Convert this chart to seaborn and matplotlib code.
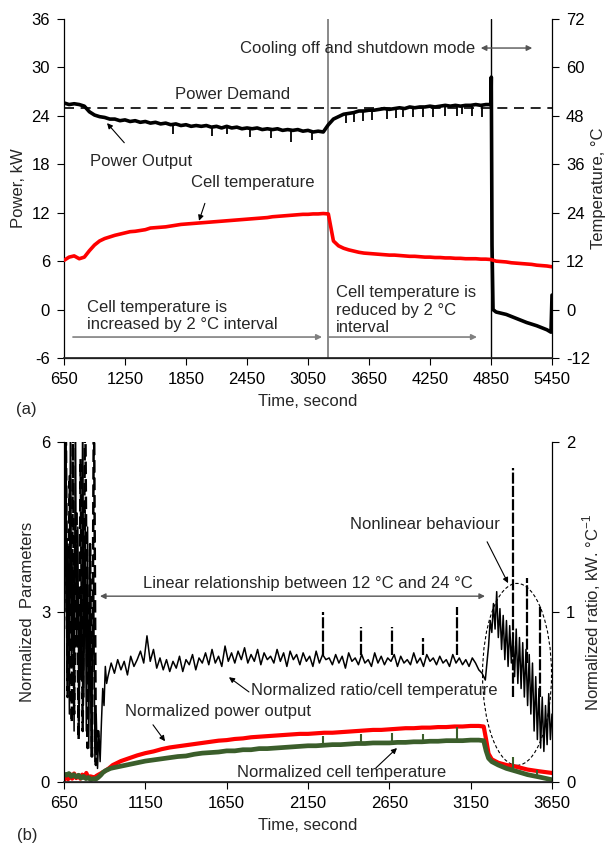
import numpy as np
import seaborn as sns
import matplotlib.pyplot as plt
from matplotlib.patches import Ellipse

sns.set_theme(style="ticks")
plt.rcParams['font.family'] = ['Liberation Sans', 'DejaVu Sans']
plt.rcParams['mathtext.fontset'] = 'custom'
plt.rcParams['mathtext.rm'] = 'Liberation Sans'
plt.rcParams['axes.unicode_minus'] = False
plt.rcParams['font.size'] = 12

# ---------------- panel (a) ----------------
power_t = np.concatenate([np.arange(650, 4801, 50),
                          [4840, 4850, 4853, 4860, 4870, 4900, 5000, 5100, 5200, 5300, 5400, 5440, 5450]])
power_kw = [25.6, 25.4, 25.5, 25.4, 25.2, 24.5, 24.1, 23.9, 23.8, 23.6,
            23.6, 23.4, 23.5, 23.3, 23.4, 23.2, 23.3, 23.1, 23.2, 23.0,
            23.1, 22.9, 23.0, 22.8, 22.9, 22.7, 22.8, 22.7, 22.8, 22.6,
            22.7, 22.5, 22.7, 22.5, 22.6, 22.4, 22.5, 22.4, 22.5, 22.3,
            22.4, 22.3, 22.4, 22.2, 22.3, 22.2, 22.3, 22.1, 22.2, 22.0,
            22.1, 22.0, 22.9, 23.6, 23.9, 24.2, 24.3, 24.4, 24.6, 24.6,
            24.7, 24.7, 24.8, 24.9, 24.8, 24.9, 25.0, 24.9, 25.1, 25.0,
            25.1, 25.1, 25.2, 25.1, 25.2, 25.3, 25.2, 25.3, 25.2, 25.3,
            25.3, 25.4, 25.3, 25.4,
            25.4, 25.5, 28.8, 8.0, 0.0, -0.3, -0.6, -1.1, -1.6, -2.0, -2.5, -2.8, 1.8]

# short downward dips on the power output trace
dip_t = [1719, 2109, 2250, 2480, 2683, 2883, 3086, 3424, 3506, 3594, 3677,
         3824, 3916, 3987, 4086, 4184, 4283, 4398, 4513, 4562, 4660, 4758]
dip_hi = [22.95, 22.6, 22.6, 22.45, 22.35, 22.25, 22.15, 24.2, 24.4, 24.6, 24.7,
          24.8, 24.9, 25.0, 25.0, 25.1, 25.1, 25.2, 25.25, 25.25, 25.3, 25.3]
dip_lo = [21.8, 21.5, 21.7, 21.4, 21.3, 20.7, 21.0, 23.1, 23.2, 23.3, 23.5,
          23.6, 23.7, 23.8, 23.8, 23.9, 23.9, 24.0, 24.0, 24.2, 24.0, 23.9]

demand_kw = 25

cell_t = np.arange(650, 5451, 50)
cell_temp = [12.2, 13.0, 13.3, 12.6, 13.0, 14.6, 16.0, 17.0, 17.6, 18.0,
             18.4, 18.7, 19.0, 19.3, 19.4, 19.6, 19.8, 20.2, 20.3, 20.4,
             20.5, 20.7, 20.9, 21.1, 21.2, 21.3, 21.4, 21.5, 21.6, 21.7,
             21.8, 21.9, 22.0, 22.1, 22.2, 22.3, 22.4, 22.5, 22.6, 22.7,
             22.8, 23.0, 23.1, 23.2, 23.3, 23.4, 23.5, 23.6, 23.6, 23.7,
             23.7, 23.8, 23.7, 17.0, 15.8, 15.2, 14.8, 14.5, 14.2, 14.0,
             13.9, 13.8, 13.7, 13.6, 13.5, 13.5, 13.4, 13.3, 13.2, 13.2,
             13.1, 13.0, 13.0, 12.9, 12.9, 12.8, 12.8, 12.7, 12.7, 12.6,
             12.6, 12.6, 12.5, 12.5, 12.4, 12.0, 11.9, 11.8, 11.6, 11.5,
             11.4, 11.3, 11.2, 11.0, 10.9, 10.8, 10.6]

# ---------------- panel (b) ----------------
ratio_t = np.concatenate([
    [650, 655, 662, 668, 675, 683, 690, 697, 705, 712, 720, 727, 735, 742, 750, 757, 765, 772,
     780, 787, 795, 802, 810, 817, 825, 832, 840, 848, 856, 864, 872, 880, 888, 896, 904, 912],
    np.arange(920, 3241, 20),
    np.arange(3250, 3651, 10)])
ratio = [2.3, 1.0, 2.3, 0.6, 1.4, 0.4, 2.3, 0.7, 1.3, 0.3,
         2.3, 0.8, 1.5, 0.3, 1.1, 0.6, 2.3, 0.5, 1.6, 0.3,
         1.5, 0.2, 1.2, 0.15, 0.7, 1.2, 0.12, 0.4, 0.08, 0.3,
         0.12, 0.35, 0.55, 0.45, 0.68, 0.58,
         0.62, 0.70, 0.64, 0.72, 0.66, 0.71, 0.63, 0.74, 0.68, 0.72,
         0.77, 0.70, 0.86, 0.71, 0.78, 0.67, 0.73, 0.66, 0.72, 0.65,
         0.71, 0.67, 0.74, 0.65, 0.72, 0.69, 0.75, 0.66, 0.73, 0.70,
         0.76, 0.69, 0.78, 0.70, 0.74, 0.68, 0.80, 0.71, 0.76, 0.70,
         0.77, 0.72, 0.79, 0.70, 0.75, 0.71, 0.78, 0.69, 0.76, 0.72,
         0.74, 0.70, 0.78, 0.71, 0.76, 0.68, 0.77, 0.72, 0.75, 0.69,
         0.76, 0.71, 0.74, 0.68, 0.77, 0.70, 0.75, 0.72, 0.73, 0.69,
         0.75, 0.70, 0.74, 0.67, 0.76, 0.71, 0.73, 0.69, 0.75, 0.70,
         0.72, 0.68, 0.76, 0.70, 0.74, 0.69, 0.73, 0.71, 0.75, 0.68,
         0.74, 0.70, 0.72, 0.69, 0.76, 0.70, 0.73, 0.68, 0.75, 0.71,
         0.73, 0.69, 0.74, 0.70, 0.72, 0.68, 0.75, 0.70, 0.73, 0.69,
         0.72, 0.68, 0.73, 0.70, 0.66, 0.64, 0.60,
         0.70, 0.80, 0.95, 0.88, 1.05, 0.90, 1.12, 0.85, 1.02, 0.78,
         0.98, 0.72, 0.95, 0.68, 0.92, 0.70, 0.88, 0.62, 0.90, 0.58,
         0.85, 0.55, 0.82, 0.50, 0.78, 0.45, 0.75, 0.40, 0.70, 0.30,
         0.62, 0.25, 0.55, 0.20, 0.50, 0.18, 0.45, 0.22, 0.52, 0.25, 0.40]

ratio_dash_t = [650, 660, 672, 685, 698, 705, 712, 725, 740, 752, 765, 780, 795, 810, 822, 834, 846, 858, 870]
ratio_dash = [0.9, 2.3, 0.5, 1.8, 0.35, 2.3, 0.4, 1.6, 0.25, 1.9, 0.3, 2.3, 0.2, 1.4, 0.15, 2.3, 0.1, 0.3, 0.2]
ratio_spk_t = [2242, 2476, 2667, 2857, 3066, 3410, 3497, 3576]
ratio_spk_lo = [0.75, 0.75, 0.75, 0.75, 0.75, 0.5, 0.7, 0.5]
ratio_spk_hi = [1.0, 0.91, 0.91, 0.85, 1.03, 1.85, 1.2, 1.03]

npow_t = np.concatenate([
    [650, 662, 675, 687, 700, 712, 725, 737, 750, 762, 775, 787, 800, 812, 825, 837, 850, 862, 875, 887, 900, 925],
    np.arange(950, 3201, 50),
    [3230, 3245, 3260, 3280, 3320, 3370, 3430, 3500, 3570, 3650]])
npow = [0.03, 0.12, 0.05, 0.14, 0.06, 0.15, 0.07, 0.12, 0.06, 0.13, 0.08, 0.16, 0.07, 0.10,
        0.09, 0.08, 0.11, 0.13, 0.15, 0.17, 0.19, 0.24,
        0.30, 0.37, 0.42, 0.47, 0.51, 0.54, 0.58, 0.61, 0.63, 0.65,
        0.67, 0.69, 0.71, 0.73, 0.74, 0.76, 0.77, 0.79, 0.80, 0.81,
        0.82, 0.83, 0.84, 0.85, 0.85, 0.86, 0.87, 0.87, 0.88, 0.89,
        0.90, 0.91, 0.92, 0.92, 0.93, 0.94, 0.95, 0.95, 0.96, 0.96,
        0.97, 0.97, 0.98, 0.98, 0.99, 0.99,
        0.98, 0.75, 0.50, 0.40, 0.34, 0.30, 0.27, 0.22, 0.19, 0.16]

ntemp_t = np.concatenate([
    [650, 665, 680, 695, 710, 725, 740, 755, 770, 785, 800, 815, 830, 845, 860, 875, 890, 905, 920, 935],
    np.arange(950, 3201, 50),
    [3230, 3245, 3260, 3280, 3320, 3370, 3430, 3500, 3570, 3650]])
ntemp = [0.14, 0.12, 0.15, 0.10, 0.13, 0.09, 0.12, 0.07, 0.10, 0.06,
         0.08, 0.04, 0.06, 0.05, 0.08, 0.12, 0.17, 0.20, 0.22, 0.24,
         0.25, 0.28, 0.31, 0.34, 0.37, 0.39, 0.41, 0.43, 0.45, 0.46,
         0.49, 0.51, 0.52, 0.53, 0.55, 0.55, 0.57, 0.57, 0.59, 0.59,
         0.60, 0.61, 0.62, 0.63, 0.64, 0.64, 0.65, 0.66, 0.66, 0.67,
         0.68, 0.68, 0.69, 0.69, 0.69, 0.70, 0.70, 0.71, 0.71, 0.72,
         0.72, 0.73, 0.73, 0.73, 0.74, 0.74,
         0.73, 0.55, 0.42, 0.36, 0.30, 0.24, 0.19, 0.13, 0.09, 0.04]
ntemp_spk_t = [2242, 2476, 2667, 2857, 3066, 3410, 3560]
ntemp_spk_lo = [0.64, 0.67, 0.69, 0.71, 0.73, 0.19, 0.10]
ntemp_spk_hi = [0.82, 0.85, 0.86, 0.84, 0.97, 0.44, 0.22]

RED = '#ff0000'
GREEN = '#3b5e2b'
GREY = '#808080'


def style_axes(ax, ax2):
    for a in (ax, ax2):
        a.spines['top'].set_visible(False)
        a.tick_params(direction='out', length=5, width=0.8, pad=5, colors='black', labelsize=12)
    ax.spines['right'].set_visible(False)
    ax2.spines['left'].set_visible(False)
    for s in ('left', 'bottom'):
        ax.spines[s].set_color('black')
        ax.spines[s].set_linewidth(0.9)
    ax2.spines['right'].set_color('black')
    ax2.spines['right'].set_linewidth(0.9)


fig = plt.figure(figsize=(6.05, 8.47), dpi=100)

# ---------- (a) ----------
ax = fig.add_axes([0.1058, 0.5773, 0.8066, 0.4003])
ax2 = ax.twinx()
style_axes(ax, ax2)

ax.axhline(demand_kw, color='black', lw=1.2, ls=(0, (6, 4)))
ax.axvline(3250, color=GREY, lw=1.3)
ax.axvline(4850, color='black', lw=1.0)
sns.lineplot(x=power_t, y=power_kw, ax=ax, color='black', lw=2.6, estimator=None, sort=False)
ax.vlines(dip_t, dip_lo, dip_hi, color='black', lw=1.3)
sns.lineplot(x=cell_t, y=cell_temp, ax=ax2, color=RED, lw=2.6, estimator=None, sort=False)

ax.set_xlim(650, 5450)
ax.set_ylim(-6, 36)
ax.set_yticks(range(-6, 37, 6))
ax.set_xticks(range(650, 5451, 600))
ax2.set_ylim(-12, 72)
ax2.set_yticks(range(-12, 73, 12))
ax.set_xlabel('Time, second', fontsize=12, labelpad=5)
ax.set_ylabel('Power, kW', fontsize=12)
ax2.set_ylabel('Temperature, °C', fontsize=12, labelpad=1)

ax.text(2381, 32.4, 'Cooling off and shutdown mode', va='center', ha='left', fontsize=12)
ax.annotate('', xy=(4722, 32.4), xytext=(5283, 32.4),
            arrowprops=dict(arrowstyle='<|-|>', color='#555555', lw=1.0, mutation_scale=8))
ax.text(2312, 26.6, 'Power Demand', va='center', ha='center', fontsize=12)
ax.annotate('Power Output', xy=(1073, 23.1), xytext=(906, 18.3), va='center', ha='left', fontsize=12,
            arrowprops=dict(arrowstyle='-|>', color='black', lw=0.8, mutation_scale=8,
                            shrinkA=8, shrinkB=0))
ax.annotate('Cell temperature', xy=(1978, 11.0), xytext=(1899, 15.8), va='center', ha='left', fontsize=12,
            arrowprops=dict(arrowstyle='-|>', color='black', lw=0.8, mutation_scale=8,
                            shrinkA=8, shrinkB=0, relpos=(0.15, 0)))
ax.text(876, -0.8, 'Cell temperature is\nincreased by 2 °C interval', va='center', ha='left',
        fontsize=12, linespacing=1.2)
ax.annotate('', xy=(3188, -3.4), xytext=(738, -3.4),
            arrowprops=dict(arrowstyle='-|>', color=GREY, lw=1.2, mutation_scale=8, shrinkA=0, shrinkB=0))
ax.annotate('', xy=(4712, -3.4), xytext=(3257, -3.4),
            arrowprops=dict(arrowstyle='-|>', color=GREY, lw=1.2, mutation_scale=8, shrinkA=0, shrinkB=0))
ax.text(3325, -0.06, 'Cell temperature is\nreduced by 2 °C\ninterval', va='center', ha='left',
        fontsize=12, linespacing=1.2)

# ---------- (b) ----------
bx = fig.add_axes([0.1058, 0.0767, 0.8066, 0.4014])
bx2 = bx.twinx()
style_axes(bx, bx2)

sns.lineplot(x=npow_t, y=npow, ax=bx, color=RED, lw=3.0, estimator=None, sort=False)
sns.lineplot(x=ntemp_t, y=ntemp, ax=bx, color=GREEN, lw=3.4, estimator=None, sort=False)
bx.vlines(ntemp_spk_t, ntemp_spk_lo, ntemp_spk_hi, color=GREEN, lw=1.5)
bx.add_patch(Ellipse((3435, 1.9), 424, 3.21, fill=False, ls=(0, (3, 2)), lw=0.8, color='black'))

sns.lineplot(x=ratio_dash_t, y=ratio_dash, ax=bx2, color='black', lw=1.8, ls=(0, (5, 2)),
             estimator=None, sort=False)
sns.lineplot(x=ratio_t, y=ratio, ax=bx2, color='black', lw=1.1, estimator=None, sort=False)
bx2.vlines(ratio_spk_t, ratio_spk_lo, ratio_spk_hi, color='black', lw=1.6, ls=(0, (5, 1)))

bx.set_xlim(650, 3650)
bx.set_ylim(0, 6)
bx.set_yticks([0, 3, 6])
bx.set_xticks(range(650, 3651, 500))
bx2.set_ylim(0, 2)
bx2.set_yticks([0, 1, 2])
bx.set_xlabel('Time, second', fontsize=12, labelpad=5)
bx.set_ylabel('Normalized  Parameters', fontsize=12)
bx2.set_ylabel('Normalized ratio, kW. °C$^{\\mathregular{-1}}$', fontsize=12)

bx.text(2408, 4.55, 'Nonlinear behaviour', va='center', ha='left', fontsize=12)
bx.annotate('', xy=(3380, 3.51), xytext=(3251, 4.24),
            arrowprops=dict(arrowstyle='-|>', color='black', lw=0.8, mutation_scale=8, shrinkA=0, shrinkB=0))
bx.text(1136, 3.51, 'Linear relationship between 12 °C and 24 °C', va='center', ha='left', fontsize=12)
bx.annotate('', xy=(871, 3.28), xytext=(3238, 3.28),
            arrowprops=dict(arrowstyle='<|-|>', color='#555555', lw=1.0, mutation_scale=8, shrinkA=0, shrinkB=0))
bx.text(1800, 1.61, 'Normalized ratio/cell temperature', va='center', ha='left', fontsize=12)
bx.annotate('', xy=(1664, 1.85), xytext=(1787, 1.59),
            arrowprops=dict(arrowstyle='-|>', color='black', lw=0.8, mutation_scale=8, shrinkA=0, shrinkB=0))
bx.text(1025, 1.24, 'Normalized power output', va='center', ha='left', fontsize=12)
bx.annotate('', xy=(1271, 0.72), xytext=(1197, 1.01),
            arrowprops=dict(arrowstyle='-|>', color='black', lw=0.8, mutation_scale=8, shrinkA=0, shrinkB=0))
bx.text(1714, 0.16, 'Normalized cell temperature', va='center', ha='left', fontsize=12)
bx.annotate('', xy=(2697, 0.60), xytext=(2568, 0.25),
            arrowprops=dict(arrowstyle='-|>', color='black', lw=0.8, mutation_scale=8, shrinkA=0, shrinkB=0))

fig.text(16 / 605, 1 - 409 / 847, '(a)', va='center', ha='left', fontsize=12)
fig.text(17 / 605, 1 - 835 / 847, '(b)', va='center', ha='left', fontsize=12)

fig.savefig('out.png', dpi=100)
